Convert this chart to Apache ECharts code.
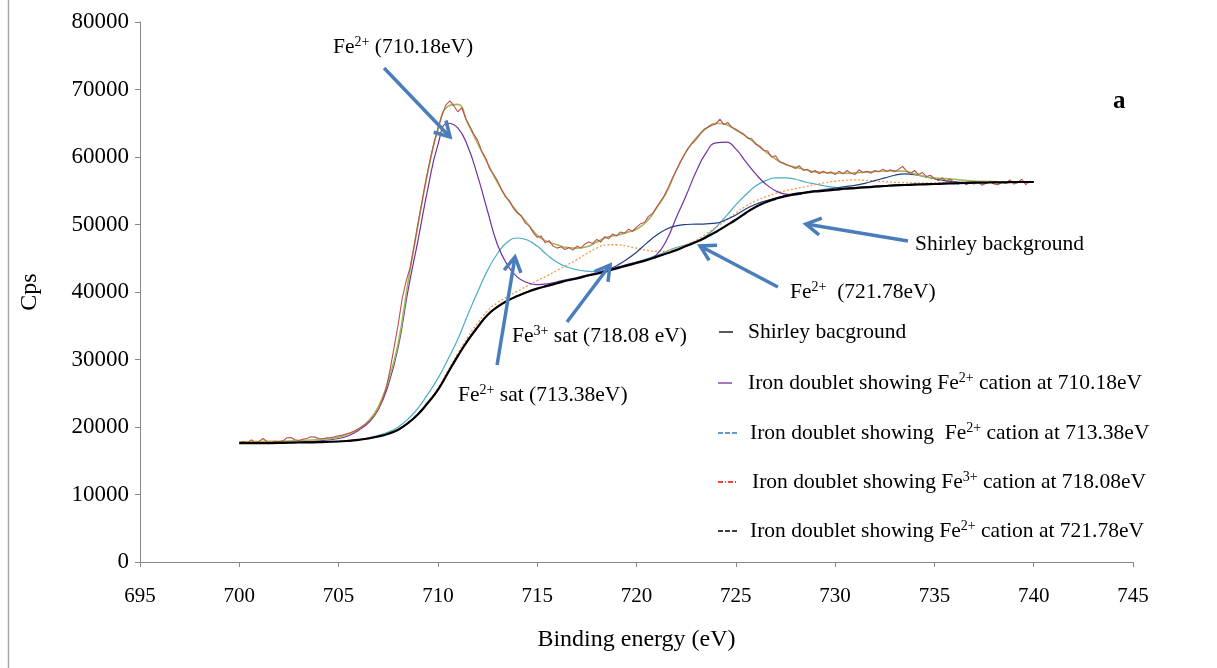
<!DOCTYPE html>
<html>
<head>
<meta charset="utf-8">
<script src="https://cdn.jsdelivr.net/npm/echarts@6/dist/echarts.min.js"></script>
<style>
html, body { margin: 0; padding: 0; background: #fff; }
#xps { width: 1217px; height: 668px; }
</style>
</head>
<body>
<div id="xps"></div>
<script>
// binding energy grid of the fitted curves (eV)
var energy = [700, 701, 702, 703, 704, 705,
    705.5, 706, 706.5, 707, 707.5, 708, 708.5, 709, 709.5, 710,
    710.5, 711, 711.5, 712, 712.5, 713, 713.5, 714, 714.5, 715,
    715.5, 716, 716.5, 717, 717.5, 718, 718.5, 719, 719.5, 720,
    720.5, 721, 721.5, 722, 722.5, 723, 723.5, 724, 724.5, 725,
    725.5, 726, 726.5, 727, 727.5, 728, 728.5, 729, 729.5, 730,
    730.5, 731, 731.5, 732, 732.5, 733, 733.5, 734, 734.5, 735,
    735.5, 736, 736.5, 737, 737.5, 738, 738.5, 739, 739.5, 740];

var shirley = [17600, 17600, 17650, 17700, 17750, 17850,
    17950, 18100, 18300, 18600, 19000, 19600, 20600, 21900, 23600, 25500,
    28000, 30500, 32800, 34800, 36600, 37800, 38700, 39400, 40000, 40500,
    40900, 41300, 41700, 42000, 42400, 42700, 43100, 43500, 43900, 44300,
    44700, 45200, 45700, 46200, 46800, 47400, 48100, 48900, 49800, 50700,
    51700, 52600, 53300, 53800, 54200, 54500, 54700, 54900, 55000, 55150,
    55300, 55400, 55500, 55600, 55700, 55800, 55850, 55900, 55950, 56000,
    56050, 56100, 56150, 56200, 56200, 56250, 56250, 56300, 56300, 56300];

// Fe2+ 710.18 eV
var fe710 = [17650, 17650, 17700, 17800, 17950, 18300,
    18700, 19500, 20600, 22600, 26200, 31800, 40300, 47700, 55400, 61800,
    65000, 64300, 61600, 57200, 52000, 47000, 44000, 42200, 41400, 41100,
    41200, 41500, 41850, 42150, 42500, 42850, 43250, 43650, 44050, 44450,
    44800, 45500, 47600, 51000, 54300, 57800, 60600, 62100, 62200, 61200,
    59300, 57500, 56000, 55000, 54500, 54400, 54700, 54950, 55050, 55200,
    55350, 55450, 55550, 55650, 55750, 55850, 55900, 55950, 56000, 56050,
    56100, 56150, 56200, 56250, 56250, 56300, 56300, 56350, 56350, 56350];

// Fe2+ sat 713.38 eV
var fe713 = [17600, 17600, 17650, 17700, 17750, 17850,
    17950, 18150, 18400, 18750, 19250, 20000, 21200, 22800, 24900, 27200,
    30000, 33000, 36600, 40000, 43200, 45700, 47400, 48000, 47700, 46800,
    45500, 44400, 43700, 43300, 43100, 43000, 43200, 43600, 44000, 44400,
    44900, 45400, 46000, 46600, 47000, 47500, 48300, 49600, 51200, 52900,
    54400, 55700, 56500, 56900, 56900, 56700, 56300, 56000, 55700, 55500,
    55400, 55450, 55550, 55650, 55750, 55850, 55900, 55950, 56000, 56050,
    56100, 56150, 56200, 56200, 56250, 56250, 56300, 56300, 56300, 56300];

// Fe3+ sat 718.08 eV
var fe718 = [17650, 17650, 17700, 17750, 17800, 17900,
    18000, 18150, 18350, 18650, 19050, 19650, 20650, 21950, 23700, 25700,
    28300, 30900, 33300, 35400, 37200, 38400, 39300, 40100, 40900, 41700,
    42400, 43200, 44000, 44800, 45700, 46500, 47000, 47000, 46800, 46500,
    46200, 46000, 46100, 46400, 47000, 47700, 48600, 49600, 50600, 51700,
    52700, 53500, 54100, 54600, 55000, 55300, 55600, 55900, 56200, 56400,
    56550, 56600, 56550, 56450, 56350, 56250, 56200, 56150, 56150, 56150,
    56150, 56200, 56200, 56250, 56250, 56300, 56300, 56300, 56300, 56300];

// Fe2+ 721.78 eV
var fe721 = [17600, 17600, 17650, 17700, 17750, 17850,
    17950, 18100, 18300, 18600, 19000, 19600, 20600, 21900, 23600, 25500,
    28000, 30500, 32800, 34800, 36600, 37800, 38700, 39400, 40000, 40500,
    40900, 41300, 41700, 42000, 42400, 42750, 43300, 43900, 44800, 45900,
    47200, 48400, 49300, 49800, 50000, 50050, 50100, 50200, 50700, 51400,
    52300, 53000, 53500, 53900, 54300, 54600, 54800, 55000, 55200, 55400,
    55600, 55800, 56100, 56500, 56900, 57300, 57500, 57400, 57100, 56800,
    56500, 56350, 56250, 56250, 56250, 56250, 56300, 56300, 56300, 56300];

// fitted envelope
var envelope = [17800, 17850, 17900, 18000, 18150, 18500,
    19000, 19700, 20900, 23000, 26800, 32400, 41500, 50000, 57800, 64000,
    67500, 67800, 65000, 62000, 59100, 56200, 53800, 51900, 50200, 48400,
    47500, 47000, 46600, 46500, 46700, 47400, 48100, 48400, 48800, 49300,
    50400, 52400, 54700, 58000, 60800, 62800, 64200, 65000, 64800, 64000,
    63100, 62000, 60800, 59700, 58900, 58500, 58100, 57800, 57700, 57600,
    57600, 57650, 57750, 57850, 57900, 57950, 57900, 57500, 57100, 56900,
    56800, 56700, 56550, 56450, 56400, 56350, 56300, 56300, 56300, 56300];

// measured spectrum, 700 -> 740 eV every 0.2 eV
var rawStart = 700, rawStep = 0.2;
var raw = [17700, 17850, 17650, 18100, 17700, 17900, 18300, 17800, 17750, 17900,
    17800, 17950, 18400, 18450, 18100, 18000, 18200, 18300, 18550, 18500,
    18300, 18250, 18400, 18450, 18550, 18700, 18800, 19000, 19150, 19400,
    19700, 20100, 20500, 21000, 21700, 22600, 24000, 25800, 28600, 31900,
    35200, 39000, 41600, 43600, 46800, 50200, 53400, 56700, 59500, 62100,
    64300, 66100, 67700, 68300, 67600, 66700, 67300, 65700, 64600, 63400,
    62500, 60900, 59900, 58300, 57400, 56500, 55200, 54100, 53500, 52400,
    51700, 51300, 50200, 49800, 48800, 48100, 48300, 47300, 47600, 46800,
    46500, 46700, 46300, 46600, 46200, 46800, 46500, 47100, 47400, 47200,
    47800, 47400, 48200, 47900, 48600, 48300, 48900, 48700, 49300, 49000,
    49600, 50100, 50300, 51200, 51600, 52500, 53400, 54300, 55500, 56800,
    58000, 59200, 60300, 61300, 62000, 62600, 63400, 64100, 64400, 64700,
    64900, 65600, 64800, 65100, 64400, 64100, 63700, 63400, 62800, 62700,
    61900, 61600, 61000, 60900, 60000, 60200, 59300, 59100, 58800, 58600,
    58300, 58700, 58000, 58200, 57700, 58000, 57500, 57900, 57600, 57800,
    57400, 57900, 57500, 58000, 57600, 57400, 58100, 57700, 57900, 57600,
    58000, 57800, 58200, 57900, 58100, 57800, 58200, 58600, 57900, 57600,
    58000, 57400, 57700, 57100, 57300, 56800, 56500, 56900, 56400, 56700,
    56200, 56000, 56300, 55900, 56200, 56000, 56300, 55800, 56100, 56400,
    56000, 55900, 56300, 56100, 56600, 56000, 56200, 56700, 55900, 56400,
    56300];

var xRange = [695, 745], xStep = 5;
var yRange = [0, 80000], yStep = 10000;

// arrows: [from, to] in [eV, Cps]
var arrows = [
    [[707.29, 73186], [710.61, 62964]],
    [[712.98, 29186], [713.88, 45186]],
    [[716.50, 35556], [718.67, 44000]],
    [[727.12, 40741], [723.20, 46815]],
    [[733.67, 47556], [728.53, 50074]]
];

var serif = '"Liberation Serif", "Times New Roman", serif';

function pairs(xs, ys) {
    return ys.map(function (y, i) { return [xs[i], y]; });
}

function rawPairs() {
    return raw.map(function (y, i) { return [+(rawStart + i * rawStep).toFixed(1), y]; });
}

function line(name, data, color, width, type, smooth) {
    return {
        name: name,
        type: 'line',
        data: data,
        showSymbol: false,
        smooth: smooth,
        lineStyle: { color: color, width: width, type: type },
        itemStyle: { color: color },
        z: 2
    };
}

var rich = {
    r: { fontSize: 21.5, fontFamily: serif, fill: '#000', color: '#000', lineHeight: 23, verticalAlign: 'bottom' },
    s: { fontSize: 14, fontFamily: serif, fill: '#000', color: '#000', lineHeight: 14, verticalAlign: 'top' }
};

function label(x, y, text) {
    return {
        type: 'text', x: x, y: y, z: 10,
        style: { text: text, rich: rich, align: 'left', verticalAlign: 'middle', fill: '#000' }
    };
}

function key(x1, x2, y, color, dash) {
    return {
        type: 'line', z: 10,
        shape: { x1: x1, y1: y, x2: x2, y2: y },
        style: { stroke: color, lineWidth: 1.3, lineDash: dash }
    };
}

initChart('xps');

function initChart(id) {
    var chart = echarts.init(document.getElementById(id));
    var option = {
        animation: false,
        backgroundColor: '#fff',
        grid: { left: 140, right: 84, top: 22, bottom: 106 },
        xAxis: {
            type: 'value',
            min: xRange[0], max: xRange[1], interval: xStep,
            name: 'Binding energy (eV)',
            nameLocation: 'middle',
            nameGap: 66,
            nameTextStyle: { fontFamily: serif, fontSize: 24, color: '#000' },
            axisLine: { show: true, lineStyle: { color: '#868686', width: 1 } },
            axisTick: { show: true, length: 5, lineStyle: { color: '#868686' } },
            axisLabel: { fontFamily: serif, fontSize: 21, color: '#000', margin: 24 },
            splitLine: { show: false }
        },
        yAxis: {
            type: 'value',
            min: yRange[0], max: yRange[1], interval: yStep,
            name: 'Cps',
            nameLocation: 'middle',
            nameRotate: 90,
            nameGap: 98,
            nameTextStyle: { fontFamily: serif, fontSize: 24, color: '#000' },
            axisLine: { show: true, lineStyle: { color: '#868686', width: 1 } },
            axisTick: { show: true, length: 5, lineStyle: { color: '#868686' } },
            axisLabel: {
                fontFamily: serif, fontSize: 23, color: '#000', margin: 11,
                formatter: function (v) { return String(v); }
            },
            splitLine: { show: false }
        },
        series: [
            line('Fe2+ sat 713.38', pairs(energy, fe713), '#4BACC6', 1.2, 'solid', true),
            line('Fe3+ sat 718.08', pairs(energy, fe718), '#F79646', 1.3, [2, 2], true),
            line('Fe2+ 721.78', pairs(energy, fe721), '#1F3F85', 1.2, 'solid', true),
            line('Fe2+ 710.18', pairs(energy, fe710), '#7030A0', 1.2, 'solid', true),
            line('Envelope', pairs(energy, envelope), '#9BBB59', 1.6, 'solid', true),
            line('Raw', rawPairs(), '#C0504D', 1.1, 'solid', false),
            line('Shirley background', pairs(energy, shirley), '#000000', 2.2, 'solid', true)
        ]
    };
    chart.setOption(option);
    drawNotes(chart);
}

function drawNotes(chart) {
    var g = [];
    arrows.forEach(function (a) {
        var s = chart.convertToPixel({ gridIndex: 0 }, a[0]);
        var t = chart.convertToPixel({ gridIndex: 0 }, a[1]);
        var dx = t[0] - s[0], dy = t[1] - s[1];
        var len = Math.sqrt(dx * dx + dy * dy);
        var ux = dx / len, uy = dy / len;
        var head = 17, ang = 30 * Math.PI / 180;
        var arm = function (sign) {
            var c = Math.cos(sign * ang), sn = Math.sin(sign * ang);
            var rx = ux * c - uy * sn, ry = ux * sn + uy * c;
            return [t[0] - rx * head, t[1] - ry * head];
        };
        var style = { stroke: '#4A7EBB', lineWidth: 3.5, lineCap: 'butt' };
        g.push({ type: 'line', z: 9, shape: { x1: s[0], y1: s[1], x2: t[0], y2: t[1] }, style: style });
        g.push({ type: 'polyline', z: 9, shape: { points: [arm(1), t, arm(-1)] }, style: { stroke: '#4A7EBB', lineWidth: 3.5, fill: null, lineJoin: 'miter' } });
    });

    g.push(label(333, 47, '{r|Fe}{s|2+}{r| (710.18eV)}'));
    g.push(label(458, 395, '{r|Fe}{s|2+}{r| sat (713.38eV)}'));
    g.push(label(512, 336, '{r|Fe}{s|3+}{r| sat (718.08 eV)}'));
    g.push(label(790, 292, '{r|Fe}{s|2+}{r|  (721.78eV)}'));
    g.push(label(915, 244, '{r|Shirley background}'));
    g.push({
        type: 'text', x: 1113, y: 102, z: 10,
        style: { text: 'a', font: 'bold 25px ' + serif, fill: '#000', align: 'left', verticalAlign: 'middle' }
    });

    // text box key
    g.push(key(719, 733, 332, '#000000', null));
    g.push(label(748, 332, '{r|Shirley bacground}'));
    g.push(key(718, 732, 383, '#7030A0', null));
    g.push(label(748, 383, '{r|Iron doublet showing Fe}{s|2+}{r| cation at 710.18eV}'));
    g.push(key(718, 737, 433, '#2E75C6', [5, 2]));
    g.push(label(750, 433, '{r|Iron doublet showing  Fe}{s|2+}{r| cation at 713.38eV}'));
    g.push(key(718, 736, 482, '#FF0000', [5, 2, 1, 2]));
    g.push(label(752, 482, '{r|Iron doublet showing Fe}{s|3+}{r| cation at 718.08eV}'));
    g.push(key(718, 737, 531, '#000000', [5, 2]));
    g.push(label(750, 531, '{r|Iron doublet showing Fe}{s|2+}{r| cation at 721.78eV}'));

    // figure frame edge
    g.push({ type: 'line', z: 10, shape: { x1: 8.5, y1: 0, x2: 8.5, y2: 668 }, style: { stroke: '#A6A6A6', lineWidth: 1.5 } });

    chart.setOption({ graphic: g });
}
</script>
</body>
</html>
